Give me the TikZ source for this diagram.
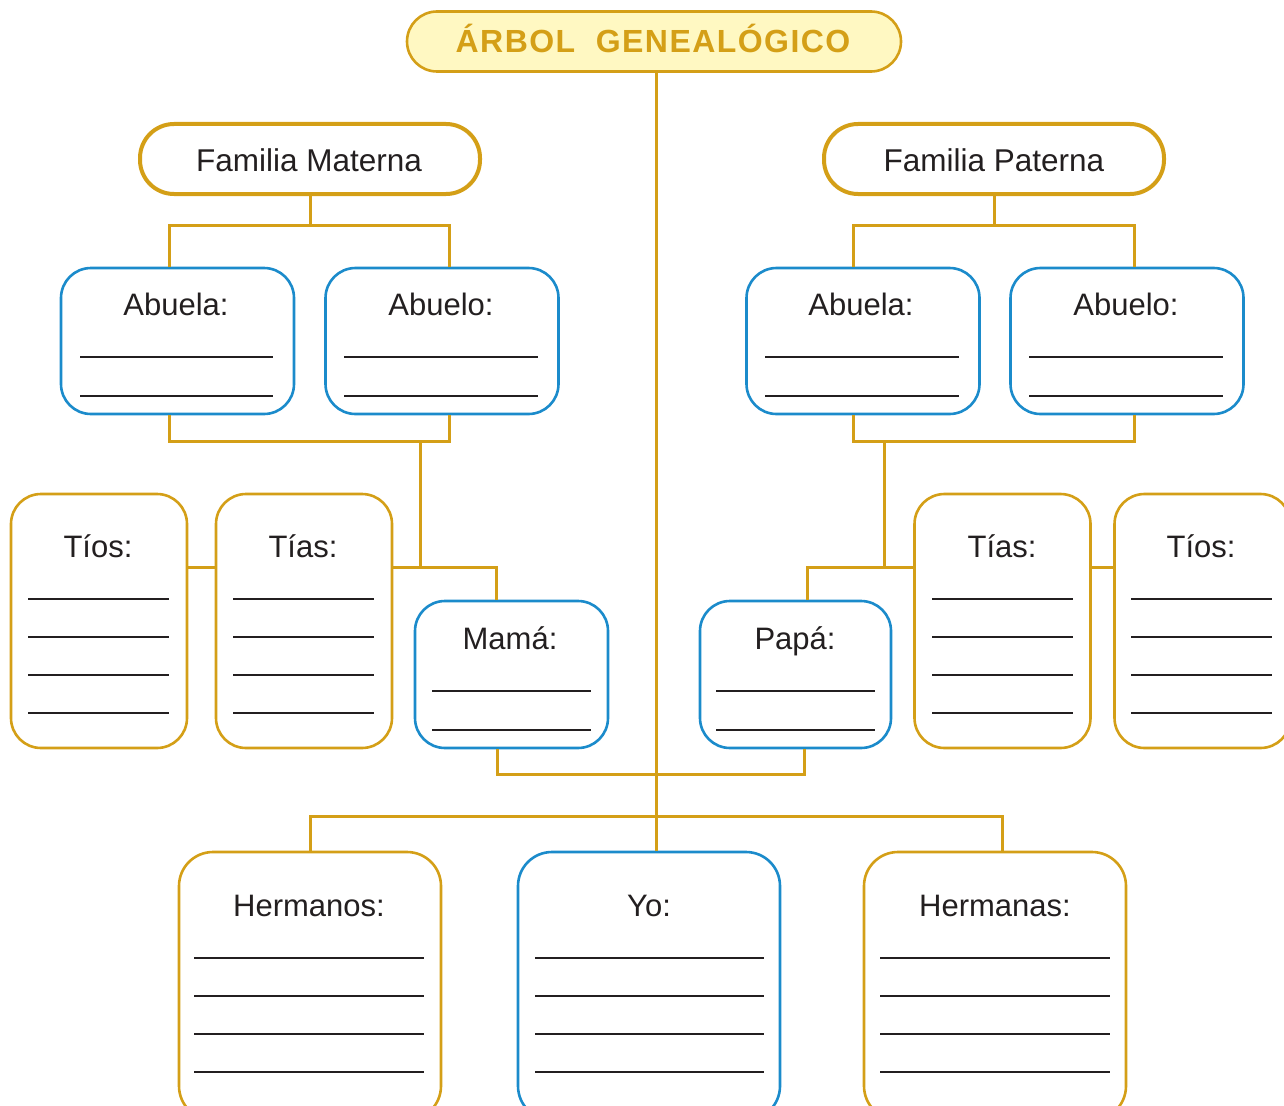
\documentclass[tikz,border=0pt]{standalone}
\usepackage{fontspec}
\setmainfont{Liberation Sans}
\definecolor{gold}{HTML}{D49F17}
\definecolor{sky}{HTML}{1B8BCB}
\definecolor{cream}{HTML}{FFF8C2}
\definecolor{ink}{HTML}{231F20}
\newcommand\blanklines[3]{\foreach \yy in {#3} {\draw[blank] (#1,\yy) -- (#2,\yy);}}
\begin{document}
\begin{tikzpicture}[x=1pt,y=-1pt,
  box/.style={draw, rounded corners=30pt, line width=2.6pt, fill=white, inner sep=0pt},
  goldbox/.style={box, draw=gold},
  bluebox/.style={box, draw=sky},
  famb/.style={draw=gold, line width=4pt, rounded corners=34pt, inner sep=0pt,
    minimum width=340pt, minimum height=70pt, fill=white},
  lbl/.style={font=\fontsize{31}{31}\selectfont, text=ink, inner sep=0pt, anchor=base},
  conn/.style={draw=gold, line width=3pt},
  blank/.style={draw=ink, line width=2.6pt}]
\useasboundingbox (0,0) rectangle (1284,1105);
\clip (0,0) rectangle (1284,1105);

% junction coordinates
\coordinate (cx) at (656,0);
\coordinate (mj1) at (310,225);
\coordinate (mj2) at (420,441);
\coordinate (mj3) at (420,567);
\coordinate (pj1) at (994,225);
\coordinate (pj2) at (884,441);
\coordinate (pj3) at (884,567);
\coordinate (pj) at (656,774);
\coordinate (bj) at (656,816);

% title
\node[draw=gold, fill=cream, line width=2.6pt, rounded corners=30pt,
  minimum width=494pt, minimum height=60pt, inner sep=0pt] (title) at (654,41.5) {};
\node[font=\bfseries\fontsize{32}{32}\selectfont\addfontfeature{LetterSpace=4.5}, text=gold, inner sep=0pt, anchor=base]
  (titletxt) at (653,53) {ÁRBOL\ \ GENEALÓGICO};

% family headers
\node[famb] (famm) at (310,159) {};
\node[famb] (famp) at (994,159) {};

% grandparents
\node[bluebox, minimum width=233pt, minimum height=146pt] (abm1) at (177.5,341) {};
\node[bluebox, minimum width=233pt, minimum height=146pt] (abm2) at (442,341) {};
\node[bluebox, minimum width=233pt, minimum height=146pt] (abp1) at (863,341) {};
\node[bluebox, minimum width=233pt, minimum height=146pt] (abp2) at (1127,341) {};

% uncles / aunts
\node[goldbox, minimum width=176pt, minimum height=254pt] (tl1) at (99,621) {};
\node[goldbox, minimum width=176pt, minimum height=254pt] (tl2) at (304,621) {};
\node[goldbox, minimum width=176pt, minimum height=254pt] (tr1) at (1002.5,621) {};
\node[goldbox, minimum width=176pt, minimum height=254pt] (tr2) at (1202.5,621) {};

% parents
\node[bluebox, minimum width=193pt, minimum height=147pt] (mama) at (511.5,674.5) {};
\node[bluebox, minimum width=191pt, minimum height=147pt] (papa) at (795.5,674.5) {};

% bottom row
\node[goldbox, rounded corners=34pt, minimum width=262pt, minimum height=268pt] (hb) at (310,986) {};
\node[bluebox, rounded corners=34pt, minimum width=262pt, minimum height=268pt] (yo) at (649,986) {};
\node[goldbox, rounded corners=34pt, minimum width=262pt, minimum height=268pt] (hs) at (995,986) {};

% connectors
\draw[conn] (title.south -| cx) -- (yo.north -| cx);
\draw[conn] (famm.south) -- (mj1);
\draw[conn] ([xshift=-8.5pt]abm1.north) |- (mj1) -| ([xshift=7pt]abm2.north);
\draw[conn] ([xshift=-8.5pt]abm1.south) |- (mj2) -| ([xshift=7pt]abm2.south);
\draw[conn] (mj2) -- (mj3);
\draw[conn] (tl2.east |- mj3) -- (mj3) -| ([xshift=-15.5pt]mama.north);
\draw[conn] (tl1.east |- mj3) -- (tl2.west |- mj3);
\draw[conn] (famp.south) -- (pj1);
\draw[conn] ([xshift=-10pt]abp1.north) |- (pj1) -| ([xshift=7pt]abp2.north);
\draw[conn] ([xshift=-10pt]abp1.south) |- (pj2) -| ([xshift=7pt]abp2.south);
\draw[conn] (pj2) -- (pj3);
\draw[conn] (tr1.west |- pj3) -- (pj3) -| ([xshift=12pt]papa.north);
\draw[conn] (tr1.east |- pj3) -- (tr2.west |- pj3);
\draw[conn] ([xshift=-14.5pt]mama.south) |- (pj) -| ([xshift=9pt]papa.south);
\draw[conn] (hb.north) |- (bj) -| ([xshift=7pt]hs.north);

% labels
\node[lbl, font=\fontsize{31.5}{31.5}\selectfont] (tfm) at (309,171) {Familia Materna};
\node[lbl, font=\fontsize{31.5}{31.5}\selectfont] (tfp) at (994,171) {Familia Paterna};
\node[lbl] (tabm1) at (176,315) {Abuela:};
\node[lbl] (tabm2) at (441,315) {Abuelo:};
\node[lbl] (tabp1) at (861,315) {Abuela:};
\node[lbl] (tabp2) at (1126,315) {Abuelo:};
\node[lbl] (ttl1) at (98,557) {Tíos:};
\node[lbl] (ttl2) at (303,557) {Tías:};
\node[lbl] (ttr1) at (1002,557) {Tías:};
\node[lbl] (ttr2) at (1201,557) {Tíos:};
\node[lbl] (tmama) at (510,649) {Mamá:};
\node[lbl] (tpapa) at (795,649) {Papá:};
\node[lbl] (thb) at (309,916) {Hermanos:};
\node[lbl] (tyo) at (649,916) {Yo:};
\node[lbl] (ths) at (995,916) {Hermanas:};

% blank lines
\blanklines{80}{273}{357,396}
\blanklines{344}{538}{357,396}
\blanklines{765}{959}{357,396}
\blanklines{1029}{1223}{357,396}
\blanklines{28}{169}{599,637,675,713}
\blanklines{233}{374}{599,637,675,713}
\blanklines{932}{1073}{599,637,675,713}
\blanklines{1131}{1272}{599,637,675,713}
\blanklines{432}{591}{691,730}
\blanklines{716}{875}{691,730}
\blanklines{194}{424}{958,996,1034,1072}
\blanklines{535}{764}{958,996,1034,1072}
\blanklines{880}{1110}{958,996,1034,1072}
\end{tikzpicture}
\end{document}
